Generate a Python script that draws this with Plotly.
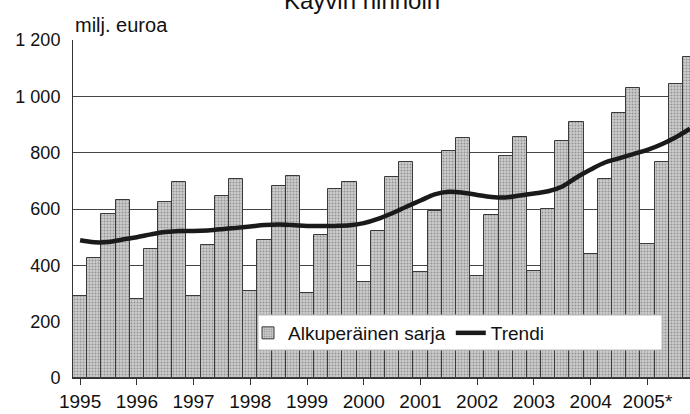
import plotly.graph_objects as go

years = ["1995", "1996", "1997", "1998", "1999", "2000", "2001", "2002", "2003", "2004", "2005*"]
quarters_per_year = 4

original = [
    290, 426, 584, 632,
    282, 457, 626, 695,
    290, 472, 646, 707,
    309, 489, 682, 718,
    301, 507, 670, 697,
    341, 522, 714, 766,
    375, 592, 807, 851,
    362, 578, 787, 854,
    379, 601, 841, 910,
    441, 706, 940, 1028,
    475, 768, 1044, 1138,
]
trend = [
    489, 482, 483, 492,
    500, 510, 518, 522,
    522, 524, 528, 533,
    538, 543, 545, 543,
    540, 540, 540, 542,
    550, 565, 585, 608,
    630, 652, 661, 658,
    650, 643, 641, 648,
    655, 663, 680, 712,
    740, 765, 780, 795,
    810, 830, 855, 885,
]
y_ticks = [0, 200, 400, 600, 800, 1000, 1200]
y_tick_labels = ["0", "200", "400", "600", "800", "1 000", "1 200"]

idx = list(range(len(original)))
font = "Liberation Sans, Arial, sans-serif"

W, H = 690, 414
ML, MR, MT, MB = 73, 0, 40, 36
PW, PH = W - ML - MR, H - MT - MB


def px_x(p):
    return (p - ML) / PW


def px_y(p):
    return (H - MB - p) / PH


fig = go.Figure()
fig.add_trace(go.Bar(
    x=idx, y=original, name="Alkuperäinen sarja", width=1.0,
    marker=dict(color="#c8c8c8", line=dict(color="#3a3a3a", width=1),
                pattern=dict(shape=".", size=3, solidity=0.35,
                             fgcolor="#5a5a5a", bgcolor="#cdcdcd")),
))
fig.add_trace(go.Scatter(
    x=idx, y=trend, name="Trendi", mode="lines",
    line=dict(color="#1a1a1a", width=4.5, shape="spline"),
))

fig.update_layout(
    width=W, height=H,
    margin=dict(l=ML, r=MR, t=MT, b=MB, autoexpand=False),
    paper_bgcolor="white", plot_bgcolor="white",
    font=dict(family=font, size=18, color="#111"),
    bargap=0,
    showlegend=True,
    legend=dict(orientation="h", x=px_x(248), y=px_y(333), xanchor="left", yanchor="middle",
                bgcolor="rgba(0,0,0,0)", borderwidth=0,
                font=dict(size=19), itemwidth=30),
    xaxis=dict(range=[-0.5, 43.0], tickvals=[i * quarters_per_year for i in range(len(years))],
               ticktext=years, ticks="outside", ticklen=6, tickcolor="#333",
               tickfont=dict(size=19),
               showgrid=False, showline=True, linecolor="#333", linewidth=1,
               zeroline=False),
    yaxis=dict(range=[0, 1200], tickvals=y_ticks, ticktext=y_tick_labels,
               showgrid=True, gridcolor="#444", gridwidth=1, showline=True,
               linecolor="#333", linewidth=1, zeroline=False, ticks="",
               ticklabelstandoff=8),
    shapes=[
        dict(type="rect", xref="paper", yref="paper", x0=px_x(258), x1=px_x(662),
             y0=px_y(350), y1=px_y(315), fillcolor="white",
             line=dict(color="#bbbbbb", width=1), layer="above"),
    ],
    annotations=[
        dict(text="Käyvin hinnoin", xref="paper", yref="paper", x=px_x(362),
             y=px_y(0), xanchor="center", yanchor="middle", showarrow=False,
             font=dict(size=24)),
        dict(text="milj. euroa", xref="paper", yref="paper", x=0.0,
             y=px_y(25), xanchor="left", yanchor="middle", showarrow=False,
             font=dict(size=20)),
    ],
)

fig.write_html("out.html", config={"displayModeBar": False},
               post_script="document.body.style.margin='0';document.body.style.padding='0';")
